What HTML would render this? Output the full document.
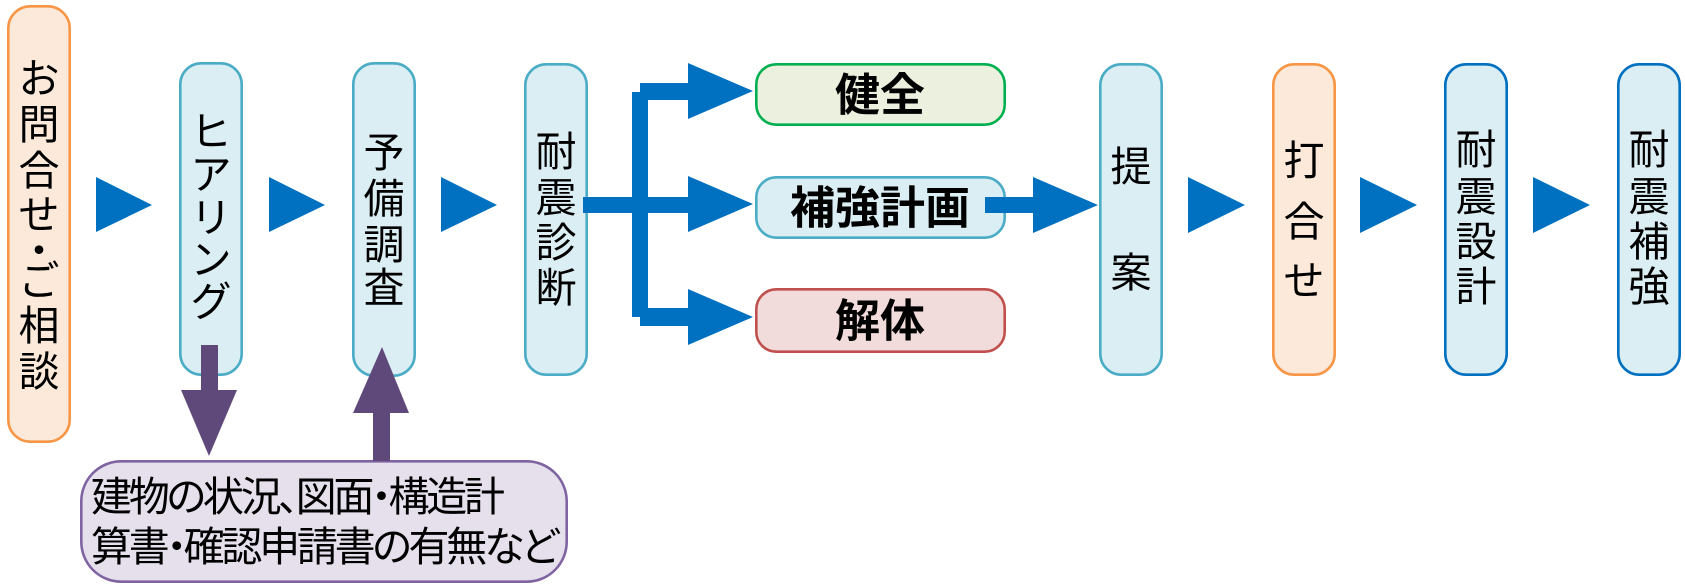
<!DOCTYPE html>
<html><head><meta charset="utf-8">
<style>
html,body{margin:0;padding:0;background:#fff;}
svg{display:block;}
text{font-family:"Liberation Sans","Noto Sans CJK JP",sans-serif;fill:#000;}
.v{font-size:41px;text-anchor:middle;dominant-baseline:central;}
.b{font-size:45px;font-weight:700;text-anchor:middle;dominant-baseline:central;}
.n{font-size:41px;dominant-baseline:central;font-feature-settings:"palt";}
</style></head>
<body>
<svg width="1685" height="588" viewBox="0 0 1685 588" xmlns="http://www.w3.org/2000/svg">
<rect x="0" y="0" width="1685" height="588" fill="#fff"/>

<!-- tall boxes -->
<rect x="8.3" y="6.3" width="61.4" height="435.4" rx="22" fill="#fde9d9" stroke="#f79646" stroke-width="2.6"/>
<rect x="180.3" y="63.3" width="61.4" height="311.4" rx="21" fill="#daeef3" stroke="#4bacc6" stroke-width="2.6"/>
<rect x="353.3" y="63.3" width="61.4" height="312.4" rx="21" fill="#daeef3" stroke="#4bacc6" stroke-width="2.6"/>
<rect x="525.3" y="64.3" width="61.4" height="310.4" rx="21" fill="#daeef3" stroke="#4bacc6" stroke-width="2.6"/>
<rect x="1100.3" y="64.3" width="61.4" height="310.4" rx="21" fill="#daeef3" stroke="#4bacc6" stroke-width="2.6"/>
<rect x="1273.3" y="64.3" width="61.4" height="310.4" rx="21" fill="#fde9d9" stroke="#f79646" stroke-width="2.6"/>
<rect x="1445.3" y="64.3" width="61.4" height="310.4" rx="21" fill="#daeef3" stroke="#0070c0" stroke-width="2.6"/>
<rect x="1618.3" y="64.3" width="61.4" height="310.4" rx="21" fill="#daeef3" stroke="#0070c0" stroke-width="2.6"/>

<!-- horizontal boxes -->
<rect x="756.3" y="64.3" width="248.4" height="60.4" rx="20" fill="#ebf1de" stroke="#00b050" stroke-width="2.6"/>
<rect x="756.3" y="177.3" width="248.4" height="60.4" rx="20" fill="#daeef3" stroke="#4bacc6" stroke-width="2.6"/>
<rect x="756.3" y="289.3" width="248.4" height="62.4" rx="20" fill="#f2dcdb" stroke="#c0504d" stroke-width="2.6"/>

<!-- bottom box -->
<rect x="81.3" y="461.3" width="485.4" height="120.4" rx="40" fill="#e5e0ec" stroke="#8064a2" stroke-width="2.6"/>

<!-- blue triangles -->
<g fill="#0070c0">
<polygon points="96,177 152,205 96,232"/>
<polygon points="269,177 325,205 269,232"/>
<polygon points="441,177 497,205 441,232"/>
<polygon points="1188,177 1245,205 1188,233"/>
<polygon points="1360,177 1417,205 1360,233"/>
<polygon points="1533,177 1590,205 1533,233"/>

<!-- branch connectors -->
<rect x="583" y="197" width="106" height="16"/>
<rect x="632" y="92" width="16" height="225"/>
<rect x="640" y="83" width="49" height="17"/>
<rect x="640" y="308" width="49" height="18"/>
<polygon points="688,63 753,91 688,119"/>
<polygon points="688,176 753,204 688,232"/>
<polygon points="688,289 753,317 688,345"/>

<!-- 補強計画 -> 提案 -->
<rect x="985" y="197" width="49" height="16"/>
<polygon points="1033,177 1098,205 1033,233"/>
</g>

<!-- purple arrows -->
<g fill="#5f497a">
<rect x="201" y="345" width="17" height="46"/>
<polygon points="181,390 237,390 209,456"/>
<polygon points="382,347 409,413 353,413"/>
<rect x="373" y="412" width="17" height="49"/>
</g>

<!-- vertical texts -->
<g class="v">
<text x="39" y="79">お</text>
<text x="39" y="125">問</text>
<text x="39" y="171">合</text>
<text x="39" y="215">せ</text>
<text x="39" y="251">・</text>
<text x="39" y="281">ご</text>
<text x="39" y="326">相</text>
<text x="39" y="372">談</text>

<text x="211" y="132">ヒ</text>
<text x="211" y="175">ア</text>
<text x="211" y="218">リ</text>
<text x="211" y="260">ン</text>
<text x="211" y="302">グ</text>

<text x="384" y="153">予</text>
<text x="384" y="199">備</text>
<text x="384" y="245">調</text>
<text x="384" y="288">査</text>

<text x="556" y="152">耐</text>
<text x="556" y="198">震</text>
<text x="556" y="243">診</text>
<text x="556" y="288">断</text>

<text x="1131" y="167">提</text>
<text x="1131" y="273">案</text>

<text x="1304" y="161">打</text>
<text x="1304" y="222">合</text>
<text x="1304" y="281">せ</text>

<text x="1476" y="150">耐</text>
<text x="1476" y="197">震</text>
<text x="1476" y="242">設</text>
<text x="1476" y="287">計</text>

<text x="1649" y="150">耐</text>
<text x="1649" y="197">震</text>
<text x="1649" y="242">補</text>
<text x="1649" y="287">強</text>
</g>

<!-- bold labels -->
<g class="b">
<text x="880" y="95">健全</text>
<text x="880" y="208">補強計画</text>
<text x="880" y="321">解体</text>
</g>

<!-- bottom text -->
<text class="n" x="91" y="497" textLength="414" lengthAdjust="spacing">建物の状況、図面・構造計</text>
<text class="n" x="91" y="547" textLength="468" lengthAdjust="spacing">算書・確認申請書の有無など</text>
</svg>
</body></html>
